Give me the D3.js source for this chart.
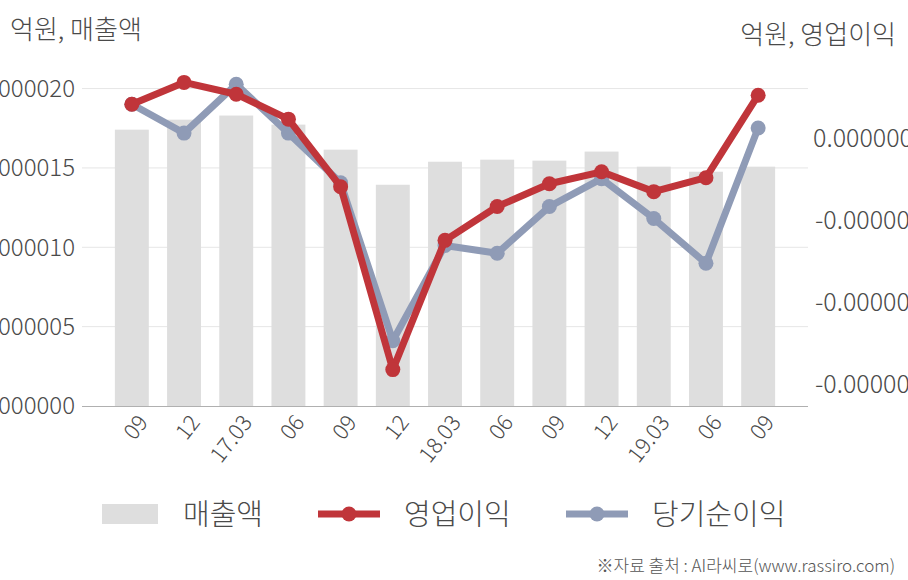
<!DOCTYPE html>
<html><head><meta charset="utf-8">
<script src="https://cdn.jsdelivr.net/npm/d3@7"></script>
<style>
html,body{margin:0;padding:0;background:#fff;}
svg{display:block;font-family:"Noto Sans CJK KR","Noto Sans",sans-serif;font-weight:300;}
</style></head>
<body>
<svg id="chart" width="908" height="580"></svg>
<script>
const categories = ["09","12","17.03","06","09","12","18.03","06","09","12","19.03","06","09"];
const sales = [0.00001741,0.00001804,0.00001830,0.00001773,0.00001615,0.00001394,0.00001539,0.00001552,0.00001546,0.00001603,0.00001508,0.00001476,0.00001508];
const opProfit = [0.000000206,0.000000339,0.000000267,0.000000115,-0.000000297,-0.000001412,-0.000000624,-0.000000418,-0.000000279,-0.000000206,-0.000000327,-0.000000242,0.000000261];
const netProfit = [0.000000206,0.000000030,0.000000327,0.000000030,-0.000000273,-0.000001236,-0.000000655,-0.000000703,-0.000000418,-0.000000248,-0.000000491,-0.000000764,0.000000061];
const leftTicks = [0,0.000005,0.00001,0.000015,0.00002];
const rightTicks = [0,-0.0000005,-0.000001,-0.0000015];
const seriesNames = ["매출액","영업이익","당기순이익"];

const svg = d3.select("#chart");
const x0 = 82, x1 = 808, yTop = 60, yBot = 406;
const x = d3.scaleBand().domain(d3.range(categories.length)).range([x0,x1]).paddingInner(0.35).paddingOuter(0.63);
const yL = d3.scaleLinear().domain([0,0.0000218]).range([yBot,yTop]);
const yR = d3.scaleLinear().domain([-0.000001634,0.0000004756]).range([yBot,yTop]);
const cx = i => x(i) + x.bandwidth()/2;
const txt = "#4a4a4a";

// gridlines
svg.append("g").selectAll("line").data(leftTicks.slice(1)).join("line")
  .attr("x1",x0).attr("x2",x1).attr("y1",d=>yL(d)).attr("y2",d=>yL(d))
  .attr("stroke","#e6e6e6").attr("stroke-width",1);

// bars
svg.append("g").selectAll("rect").data(sales).join("rect")
  .attr("x",(d,i)=>x(i)).attr("width",x.bandwidth())
  .attr("y",d=>yL(d)).attr("height",d=>yBot-yL(d)).attr("fill","#dedede");

// baseline
svg.append("line").attr("x1",x0).attr("x2",x1).attr("y1",yBot+0.5).attr("y2",yBot+0.5).attr("stroke","#b0b0b0").attr("stroke-width",1.2);

// left axis labels
svg.append("g").selectAll("text").data(leftTicks).join("text")
  .attr("x",75).attr("y",d=>yL(d)).attr("dy","0.35em").attr("text-anchor","end")
  .attr("font-size",24).attr("fill",txt).text(d=>d3.format(".6f")(d));

// right axis labels
svg.append("g").selectAll("text").data(rightTicks).join("text")
  .attr("x",d=>d===0?813:815).attr("y",d=>yR(d)).attr("dy","0.35em").attr("text-anchor","start")
  .attr("font-size",25).attr("fill",txt).text(d=>d===0?"0.000000":"-0.000001");

// x labels
svg.append("g").selectAll("text").data(categories).join("text")
  .attr("transform",(d,i)=>`translate(${cx(i)+11},${yBot+12}) rotate(-52)`)
  .attr("text-anchor","end").attr("dy","0.35em")
  .attr("font-size",22).attr("fill",txt).text(d=>d);

// lines
function drawLine(data,color){
  const line = d3.line().x((d,i)=>cx(i)).y(d=>yR(d));
  svg.append("path").datum(data).attr("d",line).attr("fill","none")
    .attr("stroke",color).attr("stroke-width",7).attr("stroke-linejoin","round");
  svg.append("g").selectAll("circle").data(data).join("circle")
    .attr("cx",(d,i)=>cx(i)).attr("cy",d=>yR(d)).attr("r",7.5).attr("fill",color);
}
drawLine(netProfit,"#8f9bb6");
drawLine(opProfit,"#c0353a");

// titles
svg.append("text").attr("x",10).attr("y",39).attr("font-size",26).attr("fill",txt).text("억원, 매출액");
svg.append("text").attr("x",896).attr("y",44).attr("text-anchor","end").attr("font-size",26).attr("fill",txt).text("억원, 영업이익");

// legend
const lg = svg.append("g");
lg.append("rect").attr("x",102).attr("y",504).attr("width",56).attr("height",20).attr("fill","#dedede");
lg.append("text").attr("x",183).attr("y",515).attr("dy","0.35em").attr("font-size",29).attr("fill",txt).text(seriesNames[0]);
lg.append("line").attr("x1",318).attr("x2",380).attr("y1",514).attr("y2",514).attr("stroke","#c0353a").attr("stroke-width",7);
lg.append("circle").attr("cx",349).attr("cy",514).attr("r",7.5).attr("fill","#c0353a");
lg.append("text").attr("x",404).attr("y",515).attr("dy","0.35em").attr("font-size",29).attr("fill",txt).text(seriesNames[1]);
lg.append("line").attr("x1",566).attr("x2",628).attr("y1",514).attr("y2",514).attr("stroke","#8f9bb6").attr("stroke-width",7);
lg.append("circle").attr("cx",597).attr("cy",514).attr("r",7.5).attr("fill","#8f9bb6");
lg.append("text").attr("x",652).attr("y",515).attr("dy","0.35em").attr("font-size",29).attr("fill",txt).text(seriesNames[2]);

// footer
svg.append("text").attr("x",895).attr("y",572).attr("text-anchor","end").attr("font-size",17).attr("fill","#555").text("※자료 출처 : AI라씨로(www.rassiro.com)");
</script>
</body></html>
